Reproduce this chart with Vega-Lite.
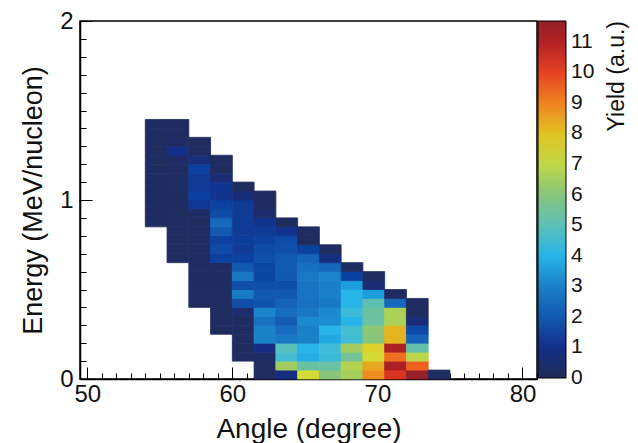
{
  "$schema": "https://vega.github.io/schema/vega-lite/v6.json",
  "width": 457,
  "height": 358,
  "autosize": {"type": "none"},
  "padding": {"left": 80, "top": 21, "right": 101, "bottom": 64},
  "background": "white",
  "config": {
    "font": "Liberation Sans",
    "view": {"stroke": "black", "strokeWidth": 1.5},
    "axis": {"grid": false, "domainColor": "black", "domainWidth": 1.5, "tickColor": "black", "tickWidth": 1, "labelColor": "#111", "titleColor": "#111", "labelFont": "Liberation Sans", "titleFont": "Liberation Sans", "titleFontWeight": "normal"},
    "legend": {"labelFont": "Liberation Sans", "titleFont": "Liberation Sans", "titleFontWeight": "normal"}
  },
  "data": {"values": [
    {"angle":54,"angle_end":55.5,"energy":0.85,"energy_end":0.9,"yield":0.3},
    {"angle":54,"angle_end":55.5,"energy":0.9,"energy_end":0.95,"yield":0.3},
    {"angle":54,"angle_end":55.5,"energy":0.95,"energy_end":1.0,"yield":0.3},
    {"angle":54,"angle_end":55.5,"energy":1.0,"energy_end":1.05,"yield":0.3},
    {"angle":54,"angle_end":55.5,"energy":1.05,"energy_end":1.1,"yield":0.3},
    {"angle":54,"angle_end":55.5,"energy":1.1,"energy_end":1.15,"yield":0.3},
    {"angle":54,"angle_end":55.5,"energy":1.15,"energy_end":1.2,"yield":0.3},
    {"angle":54,"angle_end":55.5,"energy":1.2,"energy_end":1.25,"yield":0.3},
    {"angle":54,"angle_end":55.5,"energy":1.25,"energy_end":1.3,"yield":0.3},
    {"angle":54,"angle_end":55.5,"energy":1.3,"energy_end":1.35,"yield":0.3},
    {"angle":54,"angle_end":55.5,"energy":1.35,"energy_end":1.4,"yield":0.3},
    {"angle":54,"angle_end":55.5,"energy":1.4,"energy_end":1.45,"yield":0.3},

    {"angle":55.5,"angle_end":57,"energy":0.65,"energy_end":0.7,"yield":0.3},
    {"angle":55.5,"angle_end":57,"energy":0.7,"energy_end":0.75,"yield":0.3},
    {"angle":55.5,"angle_end":57,"energy":0.75,"energy_end":0.8,"yield":0.3},
    {"angle":55.5,"angle_end":57,"energy":0.8,"energy_end":0.85,"yield":0.3},
    {"angle":55.5,"angle_end":57,"energy":0.85,"energy_end":0.9,"yield":0.3},
    {"angle":55.5,"angle_end":57,"energy":0.9,"energy_end":0.95,"yield":0.3},
    {"angle":55.5,"angle_end":57,"energy":0.95,"energy_end":1.0,"yield":0.3},
    {"angle":55.5,"angle_end":57,"energy":1.0,"energy_end":1.05,"yield":0.3},
    {"angle":55.5,"angle_end":57,"energy":1.05,"energy_end":1.1,"yield":0.3},
    {"angle":55.5,"angle_end":57,"energy":1.1,"energy_end":1.15,"yield":0.3},
    {"angle":55.5,"angle_end":57,"energy":1.15,"energy_end":1.2,"yield":0.35},
    {"angle":55.5,"angle_end":57,"energy":1.2,"energy_end":1.25,"yield":0.5},
    {"angle":55.5,"angle_end":57,"energy":1.25,"energy_end":1.3,"yield":1.0},
    {"angle":55.5,"angle_end":57,"energy":1.3,"energy_end":1.35,"yield":0.5},
    {"angle":55.5,"angle_end":57,"energy":1.35,"energy_end":1.4,"yield":0.3},
    {"angle":55.5,"angle_end":57,"energy":1.4,"energy_end":1.45,"yield":0.3},

    {"angle":57,"angle_end":58.5,"energy":0.4,"energy_end":0.45,"yield":0.3},
    {"angle":57,"angle_end":58.5,"energy":0.45,"energy_end":0.5,"yield":0.3},
    {"angle":57,"angle_end":58.5,"energy":0.5,"energy_end":0.55,"yield":0.3},
    {"angle":57,"angle_end":58.5,"energy":0.55,"energy_end":0.6,"yield":0.3},
    {"angle":57,"angle_end":58.5,"energy":0.6,"energy_end":0.65,"yield":0.3},
    {"angle":57,"angle_end":58.5,"energy":0.65,"energy_end":0.7,"yield":0.3},
    {"angle":57,"angle_end":58.5,"energy":0.7,"energy_end":0.75,"yield":0.3},
    {"angle":57,"angle_end":58.5,"energy":0.75,"energy_end":0.8,"yield":0.3},
    {"angle":57,"angle_end":58.5,"energy":0.8,"energy_end":0.85,"yield":0.3},
    {"angle":57,"angle_end":58.5,"energy":0.85,"energy_end":0.9,"yield":0.3},
    {"angle":57,"angle_end":58.5,"energy":0.9,"energy_end":0.95,"yield":0.5},
    {"angle":57,"angle_end":58.5,"energy":0.95,"energy_end":1.0,"yield":1.2},
    {"angle":57,"angle_end":58.5,"energy":1.0,"energy_end":1.05,"yield":1.5},
    {"angle":57,"angle_end":58.5,"energy":1.05,"energy_end":1.1,"yield":1.3},
    {"angle":57,"angle_end":58.5,"energy":1.1,"energy_end":1.15,"yield":1.3},
    {"angle":57,"angle_end":58.5,"energy":1.15,"energy_end":1.2,"yield":1.5},
    {"angle":57,"angle_end":58.5,"energy":1.2,"energy_end":1.25,"yield":0.8},
    {"angle":57,"angle_end":58.5,"energy":1.25,"energy_end":1.3,"yield":0.3},
    {"angle":57,"angle_end":58.5,"energy":1.3,"energy_end":1.35,"yield":0.3},

    {"angle":58.5,"angle_end":60,"energy":0.25,"energy_end":0.3,"yield":0.3},
    {"angle":58.5,"angle_end":60,"energy":0.3,"energy_end":0.35,"yield":0.3},
    {"angle":58.5,"angle_end":60,"energy":0.35,"energy_end":0.4,"yield":0.3},
    {"angle":58.5,"angle_end":60,"energy":0.4,"energy_end":0.45,"yield":0.3},
    {"angle":58.5,"angle_end":60,"energy":0.45,"energy_end":0.5,"yield":0.3},
    {"angle":58.5,"angle_end":60,"energy":0.5,"energy_end":0.55,"yield":0.3},
    {"angle":58.5,"angle_end":60,"energy":0.55,"energy_end":0.6,"yield":0.3},
    {"angle":58.5,"angle_end":60,"energy":0.6,"energy_end":0.65,"yield":0.4},
    {"angle":58.5,"angle_end":60,"energy":0.65,"energy_end":0.7,"yield":1.5},
    {"angle":58.5,"angle_end":60,"energy":0.7,"energy_end":0.75,"yield":1.7},
    {"angle":58.5,"angle_end":60,"energy":0.75,"energy_end":0.8,"yield":1.5},
    {"angle":58.5,"angle_end":60,"energy":0.8,"energy_end":0.85,"yield":2.0},
    {"angle":58.5,"angle_end":60,"energy":0.85,"energy_end":0.9,"yield":2.4},
    {"angle":58.5,"angle_end":60,"energy":0.9,"energy_end":0.95,"yield":1.7},
    {"angle":58.5,"angle_end":60,"energy":0.95,"energy_end":1.0,"yield":1.5},
    {"angle":58.5,"angle_end":60,"energy":1.0,"energy_end":1.05,"yield":1.2},
    {"angle":58.5,"angle_end":60,"energy":1.05,"energy_end":1.1,"yield":1.2},
    {"angle":58.5,"angle_end":60,"energy":1.1,"energy_end":1.15,"yield":0.7},
    {"angle":58.5,"angle_end":60,"energy":1.15,"energy_end":1.2,"yield":0.3},
    {"angle":58.5,"angle_end":60,"energy":1.2,"energy_end":1.25,"yield":0.3},

    {"angle":60,"angle_end":61.5,"energy":0.1,"energy_end":0.15,"yield":0.3},
    {"angle":60,"angle_end":61.5,"energy":0.15,"energy_end":0.2,"yield":0.3},
    {"angle":60,"angle_end":61.5,"energy":0.2,"energy_end":0.25,"yield":0.3},
    {"angle":60,"angle_end":61.5,"energy":0.25,"energy_end":0.3,"yield":0.3},
    {"angle":60,"angle_end":61.5,"energy":0.3,"energy_end":0.35,"yield":0.3},
    {"angle":60,"angle_end":61.5,"energy":0.35,"energy_end":0.4,"yield":0.6},
    {"angle":60,"angle_end":61.5,"energy":0.4,"energy_end":0.45,"yield":1.8},
    {"angle":60,"angle_end":61.5,"energy":0.45,"energy_end":0.5,"yield":2.9},
    {"angle":60,"angle_end":61.5,"energy":0.5,"energy_end":0.55,"yield":1.8},
    {"angle":60,"angle_end":61.5,"energy":0.55,"energy_end":0.6,"yield":2.8},
    {"angle":60,"angle_end":61.5,"energy":0.6,"energy_end":0.65,"yield":2.0},
    {"angle":60,"angle_end":61.5,"energy":0.65,"energy_end":0.7,"yield":1.5},
    {"angle":60,"angle_end":61.5,"energy":0.7,"energy_end":0.75,"yield":1.3},
    {"angle":60,"angle_end":61.5,"energy":0.75,"energy_end":0.8,"yield":1.4},
    {"angle":60,"angle_end":61.5,"energy":0.8,"energy_end":0.85,"yield":1.3},
    {"angle":60,"angle_end":61.5,"energy":0.85,"energy_end":0.9,"yield":1.3},
    {"angle":60,"angle_end":61.5,"energy":0.9,"energy_end":0.95,"yield":1.3},
    {"angle":60,"angle_end":61.5,"energy":0.95,"energy_end":1.0,"yield":1.3},
    {"angle":60,"angle_end":61.5,"energy":1.0,"energy_end":1.05,"yield":0.8},
    {"angle":60,"angle_end":61.5,"energy":1.05,"energy_end":1.1,"yield":0.3},

    {"angle":61.5,"angle_end":63,"energy":0.0,"energy_end":0.05,"yield":0.3},
    {"angle":61.5,"angle_end":63,"energy":0.05,"energy_end":0.1,"yield":0.3},
    {"angle":61.5,"angle_end":63,"energy":0.1,"energy_end":0.15,"yield":0.4},
    {"angle":61.5,"angle_end":63,"energy":0.15,"energy_end":0.2,"yield":0.9},
    {"angle":61.5,"angle_end":63,"energy":0.2,"energy_end":0.25,"yield":3.0},
    {"angle":61.5,"angle_end":63,"energy":0.25,"energy_end":0.3,"yield":3.0},
    {"angle":61.5,"angle_end":63,"energy":0.3,"energy_end":0.35,"yield":2.6},
    {"angle":61.5,"angle_end":63,"energy":0.35,"energy_end":0.4,"yield":3.1},
    {"angle":61.5,"angle_end":63,"energy":0.4,"energy_end":0.45,"yield":1.9},
    {"angle":61.5,"angle_end":63,"energy":0.45,"energy_end":0.5,"yield":2.0},
    {"angle":61.5,"angle_end":63,"energy":0.5,"energy_end":0.55,"yield":1.8},
    {"angle":61.5,"angle_end":63,"energy":0.55,"energy_end":0.6,"yield":1.6},
    {"angle":61.5,"angle_end":63,"energy":0.6,"energy_end":0.65,"yield":1.6},
    {"angle":61.5,"angle_end":63,"energy":0.65,"energy_end":0.7,"yield":1.8},
    {"angle":61.5,"angle_end":63,"energy":0.7,"energy_end":0.75,"yield":1.7},
    {"angle":61.5,"angle_end":63,"energy":0.75,"energy_end":0.8,"yield":1.5},
    {"angle":61.5,"angle_end":63,"energy":0.8,"energy_end":0.85,"yield":1.3},
    {"angle":61.5,"angle_end":63,"energy":0.85,"energy_end":0.9,"yield":1.1},
    {"angle":61.5,"angle_end":63,"energy":0.9,"energy_end":0.95,"yield":0.6},
    {"angle":61.5,"angle_end":63,"energy":0.95,"energy_end":1.0,"yield":0.3},
    {"angle":61.5,"angle_end":63,"energy":1.0,"energy_end":1.05,"yield":0.3},

    {"angle":63,"angle_end":64.5,"energy":0.0,"energy_end":0.05,"yield":0.9},
    {"angle":63,"angle_end":64.5,"energy":0.05,"energy_end":0.1,"yield":6.5},
    {"angle":63,"angle_end":64.5,"energy":0.1,"energy_end":0.15,"yield":4.6},
    {"angle":63,"angle_end":64.5,"energy":0.15,"energy_end":0.2,"yield":4.9},
    {"angle":63,"angle_end":64.5,"energy":0.2,"energy_end":0.25,"yield":2.8},
    {"angle":63,"angle_end":64.5,"energy":0.25,"energy_end":0.3,"yield":2.5},
    {"angle":63,"angle_end":64.5,"energy":0.3,"energy_end":0.35,"yield":2.1},
    {"angle":63,"angle_end":64.5,"energy":0.35,"energy_end":0.4,"yield":2.5},
    {"angle":63,"angle_end":64.5,"energy":0.4,"energy_end":0.45,"yield":2.3},
    {"angle":63,"angle_end":64.5,"energy":0.45,"energy_end":0.5,"yield":2.0},
    {"angle":63,"angle_end":64.5,"energy":0.5,"energy_end":0.55,"yield":1.8},
    {"angle":63,"angle_end":64.5,"energy":0.55,"energy_end":0.6,"yield":2.0},
    {"angle":63,"angle_end":64.5,"energy":0.6,"energy_end":0.65,"yield":2.0},
    {"angle":63,"angle_end":64.5,"energy":0.65,"energy_end":0.7,"yield":2.0},
    {"angle":63,"angle_end":64.5,"energy":0.7,"energy_end":0.75,"yield":1.8},
    {"angle":63,"angle_end":64.5,"energy":0.75,"energy_end":0.8,"yield":1.7},
    {"angle":63,"angle_end":64.5,"energy":0.8,"energy_end":0.85,"yield":1.1},
    {"angle":63,"angle_end":64.5,"energy":0.85,"energy_end":0.9,"yield":0.3},

    {"angle":64.5,"angle_end":66,"energy":0.0,"energy_end":0.05,"yield":7.4},
    {"angle":64.5,"angle_end":66,"energy":0.05,"energy_end":0.1,"yield":5.3},
    {"angle":64.5,"angle_end":66,"energy":0.1,"energy_end":0.15,"yield":3.9},
    {"angle":64.5,"angle_end":66,"energy":0.15,"energy_end":0.2,"yield":4.0},
    {"angle":64.5,"angle_end":66,"energy":0.2,"energy_end":0.25,"yield":3.0},
    {"angle":64.5,"angle_end":66,"energy":0.25,"energy_end":0.3,"yield":3.0},
    {"angle":64.5,"angle_end":66,"energy":0.3,"energy_end":0.35,"yield":3.2},
    {"angle":64.5,"angle_end":66,"energy":0.35,"energy_end":0.4,"yield":2.8},
    {"angle":64.5,"angle_end":66,"energy":0.4,"energy_end":0.45,"yield":2.6},
    {"angle":64.5,"angle_end":66,"energy":0.45,"energy_end":0.5,"yield":2.7},
    {"angle":64.5,"angle_end":66,"energy":0.5,"energy_end":0.55,"yield":2.7},
    {"angle":64.5,"angle_end":66,"energy":0.55,"energy_end":0.6,"yield":2.8},
    {"angle":64.5,"angle_end":66,"energy":0.6,"energy_end":0.65,"yield":2.6},
    {"angle":64.5,"angle_end":66,"energy":0.65,"energy_end":0.7,"yield":2.3},
    {"angle":64.5,"angle_end":66,"energy":0.7,"energy_end":0.75,"yield":1.5},
    {"angle":64.5,"angle_end":66,"energy":0.75,"energy_end":0.8,"yield":0.3},
    {"angle":64.5,"angle_end":66,"energy":0.8,"energy_end":0.85,"yield":0.3},

    {"angle":66,"angle_end":67.5,"energy":0.0,"energy_end":0.05,"yield":6.0},
    {"angle":66,"angle_end":67.5,"energy":0.05,"energy_end":0.1,"yield":5.3},
    {"angle":66,"angle_end":67.5,"energy":0.1,"energy_end":0.15,"yield":4.4},
    {"angle":66,"angle_end":67.5,"energy":0.15,"energy_end":0.2,"yield":4.5},
    {"angle":66,"angle_end":67.5,"energy":0.2,"energy_end":0.25,"yield":3.8},
    {"angle":66,"angle_end":67.5,"energy":0.25,"energy_end":0.3,"yield":4.0},
    {"angle":66,"angle_end":67.5,"energy":0.3,"energy_end":0.35,"yield":3.3},
    {"angle":66,"angle_end":67.5,"energy":0.35,"energy_end":0.4,"yield":3.2},
    {"angle":66,"angle_end":67.5,"energy":0.4,"energy_end":0.45,"yield":2.8},
    {"angle":66,"angle_end":67.5,"energy":0.45,"energy_end":0.5,"yield":3.0},
    {"angle":66,"angle_end":67.5,"energy":0.5,"energy_end":0.55,"yield":3.0},
    {"angle":66,"angle_end":67.5,"energy":0.55,"energy_end":0.6,"yield":3.1},
    {"angle":66,"angle_end":67.5,"energy":0.6,"energy_end":0.65,"yield":2.4},
    {"angle":66,"angle_end":67.5,"energy":0.65,"energy_end":0.7,"yield":0.9},
    {"angle":66,"angle_end":67.5,"energy":0.7,"energy_end":0.75,"yield":0.3},

    {"angle":67.5,"angle_end":69,"energy":0.0,"energy_end":0.05,"yield":6.6},
    {"angle":67.5,"angle_end":69,"energy":0.05,"energy_end":0.1,"yield":6.8},
    {"angle":67.5,"angle_end":69,"energy":0.1,"energy_end":0.15,"yield":5.6},
    {"angle":67.5,"angle_end":69,"energy":0.15,"energy_end":0.2,"yield":6.5},
    {"angle":67.5,"angle_end":69,"energy":0.2,"energy_end":0.25,"yield":4.5},
    {"angle":67.5,"angle_end":69,"energy":0.25,"energy_end":0.3,"yield":4.6},
    {"angle":67.5,"angle_end":69,"energy":0.3,"energy_end":0.35,"yield":4.0},
    {"angle":67.5,"angle_end":69,"energy":0.35,"energy_end":0.4,"yield":4.4},
    {"angle":67.5,"angle_end":69,"energy":0.4,"energy_end":0.45,"yield":4.0},
    {"angle":67.5,"angle_end":69,"energy":0.45,"energy_end":0.5,"yield":4.0},
    {"angle":67.5,"angle_end":69,"energy":0.5,"energy_end":0.55,"yield":3.6},
    {"angle":67.5,"angle_end":69,"energy":0.55,"energy_end":0.6,"yield":1.5},
    {"angle":67.5,"angle_end":69,"energy":0.6,"energy_end":0.65,"yield":0.3},

    {"angle":69,"angle_end":70.5,"energy":0.0,"energy_end":0.05,"yield":8.8},
    {"angle":69,"angle_end":70.5,"energy":0.05,"energy_end":0.1,"yield":8.4},
    {"angle":69,"angle_end":70.5,"energy":0.1,"energy_end":0.15,"yield":7.4},
    {"angle":69,"angle_end":70.5,"energy":0.15,"energy_end":0.2,"yield":7.7},
    {"angle":69,"angle_end":70.5,"energy":0.2,"energy_end":0.25,"yield":6.0},
    {"angle":69,"angle_end":70.5,"energy":0.25,"energy_end":0.3,"yield":6.1},
    {"angle":69,"angle_end":70.5,"energy":0.3,"energy_end":0.35,"yield":5.4},
    {"angle":69,"angle_end":70.5,"energy":0.35,"energy_end":0.4,"yield":5.4},
    {"angle":69,"angle_end":70.5,"energy":0.4,"energy_end":0.45,"yield":5.1},
    {"angle":69,"angle_end":70.5,"energy":0.45,"energy_end":0.5,"yield":3.6},
    {"angle":69,"angle_end":70.5,"energy":0.5,"energy_end":0.55,"yield":0.7},
    {"angle":69,"angle_end":70.5,"energy":0.55,"energy_end":0.6,"yield":0.3},

    {"angle":70.5,"angle_end":72,"energy":0.0,"energy_end":0.05,"yield":10.3},
    {"angle":70.5,"angle_end":72,"energy":0.05,"energy_end":0.1,"yield":11.1},
    {"angle":70.5,"angle_end":72,"energy":0.1,"energy_end":0.15,"yield":9.3},
    {"angle":70.5,"angle_end":72,"energy":0.15,"energy_end":0.2,"yield":11.1},
    {"angle":70.5,"angle_end":72,"energy":0.2,"energy_end":0.25,"yield":8.2},
    {"angle":70.5,"angle_end":72,"energy":0.25,"energy_end":0.3,"yield":8.2},
    {"angle":70.5,"angle_end":72,"energy":0.3,"energy_end":0.35,"yield":6.7},
    {"angle":70.5,"angle_end":72,"energy":0.35,"energy_end":0.4,"yield":6.7},
    {"angle":70.5,"angle_end":72,"energy":0.4,"energy_end":0.45,"yield":2.4},
    {"angle":70.5,"angle_end":72,"energy":0.45,"energy_end":0.5,"yield":0.3},

    {"angle":72,"angle_end":73.5,"energy":0.0,"energy_end":0.05,"yield":11.6},
    {"angle":72,"angle_end":73.5,"energy":0.05,"energy_end":0.1,"yield":9.5},
    {"angle":72,"angle_end":73.5,"energy":0.1,"energy_end":0.15,"yield":6.9},
    {"angle":72,"angle_end":73.5,"energy":0.15,"energy_end":0.2,"yield":5.2},
    {"angle":72,"angle_end":73.5,"energy":0.2,"energy_end":0.25,"yield":2.3},
    {"angle":72,"angle_end":73.5,"energy":0.25,"energy_end":0.3,"yield":1.7},
    {"angle":72,"angle_end":73.5,"energy":0.3,"energy_end":0.35,"yield":0.75},
    {"angle":72,"angle_end":73.5,"energy":0.35,"energy_end":0.4,"yield":0.3},
    {"angle":72,"angle_end":73.5,"energy":0.4,"energy_end":0.45,"yield":0.3},

    {"angle":73.5,"angle_end":75,"energy":0.0,"energy_end":0.05,"yield":0.3}
  ]},
  "mark": {"type": "rect", "strokeWidth": 0.8, "stroke": {"expr": "scale('color', datum.yield)"}},
  "encoding": {
    "x": {"field": "angle", "type": "quantitative",
      "scale": {"domain": [49.5, 81], "nice": false, "zero": false},
      "axis": {"title": "Angle (degree)", "titleFontSize": 28, "labelFontSize": 24,
        "values": [50,51,52,53,54,55,56,57,58,59,60,61,62,63,64,65,66,67,68,69,70,71,72,73,74,75,76,77,78,79,80,81],
        "labelExpr": "datum.value % 10 === 0 ? datum.label : ''",
        "labelOverlap": false, "labelFlush": false,
        "tickSize": {"condition": {"test": "datum.value % 10 === 0", "value": -12}, "value": -6},
        "labelPadding": 15, "titlePadding": 3}},
    "x2": {"field": "angle_end"},
    "y": {"field": "energy", "type": "quantitative",
      "scale": {"domain": [0, 2], "nice": false, "zero": false},
      "axis": {"title": "Energy (MeV/nucleon)", "titleFontSize": 27, "labelFontSize": 24,
        "values": [0,0.1,0.2,0.3,0.4,0.5,0.6,0.7,0.8,0.9,1,1.1,1.2,1.3,1.4,1.5,1.6,1.7,1.8,1.9,2],
        "labelExpr": "datum.value % 1 === 0 ? format(datum.value, 'd') : ''",
        "labelOverlap": false, "labelFlush": false,
        "tickSize": {"condition": {"test": "datum.value % 1 === 0", "value": -12}, "value": -6},
        "labelPadding": 19, "titlePadding": 12}},
    "y2": {"field": "energy_end"},
    "color": {"field": "yield", "type": "quantitative",
      "scale": {"domain": [0, 0.5, 1, 1.5, 2, 2.5, 3, 3.5, 4, 4.5, 5, 5.5, 6, 6.5, 7, 7.5, 8, 8.5, 9, 9.5, 10, 10.5, 11, 11.68],
        "range": ["#1f2b57", "#1f2c66", "#142f88", "#0b41a0", "#1259b0", "#176cbf", "#1a80c8", "#1b98d9", "#27b4e8", "#41bcd6", "#5cc0b6", "#70c29a", "#88c57a", "#a0cc60", "#c0d846", "#d8dc30", "#e2c222", "#e8a020", "#f08220", "#ee6020", "#e64222", "#d02a22", "#b22024", "#922028"],
        "interpolate": "rgb"},
      "legend": {"type": "gradient", "title": "Yield (a.u.)", "orient": "right", "offset": 1, "padding": 0,
        "gradientLength": 357, "gradientThickness": 28,
        "gradientStrokeColor": "black", "gradientStrokeWidth": 1,
        "values": [0,1,2,3,4,5,6,7,8,9,10,11],
        "labelFontSize": 21, "labelOffset": 5, "labelOverlap": false, "labelColor": "#111",
        "titleFontSize": 23, "titleOrient": "right",
        "titleAnchor": "end", "titleAlign": "right", "titleBaseline": "top", "titlePadding": 12, "titleColor": "#111",
        "encode": {"title": {"update": {"angle": {"value": 270}}},
                   "labels": {"update": {"baseline": {"value": "middle"}}}}}}
  }
}
